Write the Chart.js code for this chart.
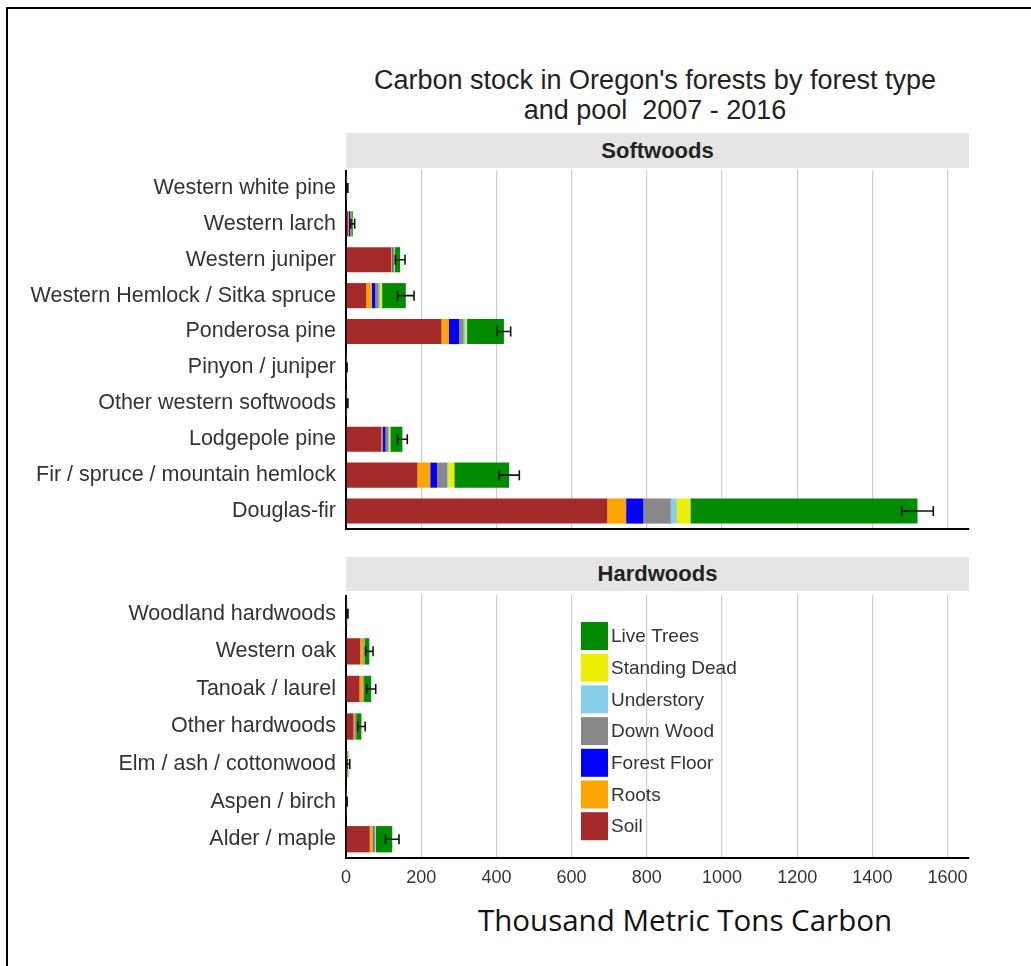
<!DOCTYPE html>
<html>
<head>
<meta charset="utf-8">
<script src="https://cdn.jsdelivr.net/npm/chart.js@4.4.1/dist/chart.umd.min.js"></script>
<style>
  html, body { margin: 0; padding: 0; background: #fff; overflow: hidden; }
  body { width: 1031px; height: 966px; position: relative; font-family: "Liberation Sans", Arial, sans-serif; color: #222; }
  #frame { position: absolute; left: 6px; top: 7px; width: 1100px; height: 1000px; border-left: 2px solid #000; border-top: 2px solid #000; }
  #title { position: absolute; left: 300px; width: 710px; top: 65px; text-align: center; font-size: 27px; line-height: 30px; color: #222; }
  .strip { position: absolute; left: 346px; width: 623px; background: #e5e5e5; text-align: center; font-weight: bold; font-size: 22px; color: #222; }
  #softStrip { top: 133px; height: 35px; line-height: 35px; }
  #hardStrip { top: 557px; height: 34px; line-height: 34px; }
  .box { position: absolute; left: 0; width: 1031px; }
  #softBox { top: 170px; height: 361px; }
  #hardBox { top: 595px; height: 303px; }
  #xTitle { position: absolute; left: 400px; width: 570px; top: 899px; text-align: center; font-family: "Open Sans", sans-serif; font-size: 29.5px; color: #111; }
</style>
</head>
<body>
<div id="frame"></div>
<div id="title">Carbon stock in Oregon's forests by forest type<br>and pool&nbsp; 2007 - 2016</div>
<div class="strip" id="softStrip">Softwoods</div>
<div class="strip" id="hardStrip">Hardwoods</div>
<div class="box" id="softBox"><canvas id="softChart"></canvas></div>
<div class="box" id="hardBox"><canvas id="hardChart"></canvas></div>
<div id="xTitle">Thousand Metric Tons Carbon</div>

<script>
// carbon pools, stacked left to right
const pools = ['Soil', 'Roots', 'Forest Floor', 'Down Wood', 'Understory', 'Standing Dead', 'Live Trees'];
const poolColors = ['#a52a2a', '#ffa500', '#0000ff', '#888888', '#87ceeb', '#eeee00', '#008b00'];

// softwoods (top to bottom)
const softLabels = ['Western white pine', 'Western larch', 'Western juniper', 'Western Hemlock / Sitka spruce',
  'Ponderosa pine', 'Pinyon / juniper', 'Other western softwoods', 'Lodgepole pine',
  'Fir / spruce / mountain hemlock', 'Douglas-fir'];
const softSoil     = [1, 6, 120, 54, 254, 1, 1, 94, 190, 695];
const softRoots    = [0.3, 2, 3, 15, 20, 0.2, 0.3, 3, 34, 50];
const softFloor    = [0.2, 3, 2, 9, 27, 0.1, 0.3, 8, 18, 46];
const softDown     = [0.2, 2, 3, 9, 12, 0.1, 0.3, 8, 27, 73];
const softUnder    = [0.1, 0.5, 1, 4, 5, 0.1, 0.2, 2, 3, 16];
const softStanding = [0.1, 0.5, 1, 5, 4, 0.1, 0.2, 3, 16, 36];
const softLive     = [1, 4, 14, 63, 98, 0.4, 0.7, 32, 146, 604];
const softErr      = [2, 5, 13, 22, 18, 1, 2, 13, 27, 42];

// hardwoods (top to bottom)
const hardLabels = ['Woodland hardwoods', 'Western oak', 'Tanoak / laurel', 'Other hardwoods',
  'Elm / ash / cottonwood', 'Aspen / birch', 'Alder / maple'];
const hardSoil     = [2, 38, 36, 20, 3, 1, 63];
const hardRoots    = [0.4, 8, 9, 4, 0.5, 0.2, 8];
const hardFloor    = [0.1, 1, 1, 1, 0.2, 0.1, 2];
const hardDown     = [0.1, 1, 1, 1, 0.2, 0.1, 4];
const hardUnder    = [0.1, 0.5, 0.5, 0.5, 0.1, 0.1, 1];
const hardStanding = [0.1, 0.5, 0.5, 0.5, 0.1, 0.1, 1];
const hardLive     = [0.5, 13, 19, 14, 2, 0.4, 44];
const hardErr      = [2, 10, 12, 10, 4, 1, 18];

const xMax = 1657;
const xStep = 200;

Chart.defaults.font.family = '"Liberation Sans", Arial, sans-serif';
Chart.defaults.color = '#333';

function makeDatasets(series) {
  return series.map((vals, i) => ({
    label: pools[i],
    data: vals,
    backgroundColor: poolColors[i],
    borderWidth: 0,
    barPercentage: 0.7,
    categoryPercentage: 1.0,
  }));
}

// error bars centred on each stacked total
const errorBars = {
  id: 'errorBars',
  afterDatasetsDraw(chart, args, opts) {
    const { ctx } = chart;
    const xs = chart.scales.x;
    const ys = chart.scales.y;
    ctx.save();
    ctx.strokeStyle = '#111';
    ctx.lineWidth = 1.6;
    opts.err.forEach((e, i) => {
      let total = 0;
      chart.data.datasets.forEach((ds) => { total += ds.data[i]; });
      const x1 = xs.getPixelForValue(Math.max(0, total - e));
      const x2 = xs.getPixelForValue(total + e);
      const y = ys.getPixelForValue(i);
      ctx.beginPath();
      ctx.moveTo(x1, y); ctx.lineTo(x2, y);
      ctx.moveTo(x1, y - 5); ctx.lineTo(x1, y + 5);
      ctx.moveTo(x2, y - 5); ctx.lineTo(x2, y + 5);
      ctx.stroke();
    });
    ctx.restore();
  },
};

// legend drawn inside the hardwoods panel, Live Trees on top
const innerLegend = {
  id: 'innerLegend',
  afterDraw(chart, args, opts) {
    if (!opts.show) return;
    const { ctx, chartArea } = chart;
    const left = chartArea.left + 235;
    let top = chartArea.top + 27;
    ctx.save();
    ctx.font = '19px "Liberation Sans", Arial, sans-serif';
    ctx.textBaseline = 'middle';
    for (let i = pools.length - 1; i >= 0; i--) {
      ctx.fillStyle = poolColors[i];
      ctx.fillRect(left, top, 27, 28);
      ctx.fillStyle = '#333';
      ctx.fillText(pools[i], left + 30, top + 15);
      top += 31.7;
    }
    ctx.restore();
  },
};

function makeChart(id, labels, series, err, showTicks, showLegend) {
  return new Chart(document.getElementById(id), {
    type: 'bar',
    data: { labels: labels, datasets: makeDatasets(series) },
    plugins: [errorBars, innerLegend],
    options: {
      indexAxis: 'y',
      responsive: true,
      maintainAspectRatio: false,
      animation: false,
      layout: { padding: { top: 0, right: 62, bottom: showTicks ? 0 : 2, left: 0 } },
      scales: {
        x: {
          stacked: true,
          min: 0,
          max: xMax,
          grid: { color: '#cccccc', lineWidth: 1.2, drawTicks: false },
          border: { display: true, color: '#000', width: 2 },
          ticks: {
            display: showTicks,
            stepSize: xStep,
            includeBounds: false,
            padding: 9,
            font: { size: 18 },
            color: '#333',
            callback: (v) => String(v),
          },
          afterFit: (scale) => {
            scale.height = showTicks ? 40 : 0;
            scale.paddingLeft = 0;
            scale.paddingRight = 0;
          },
        },
        y: {
          stacked: true,
          grid: { display: false, drawTicks: false },
          border: { display: true, color: '#000', width: 2 },
          ticks: { padding: 10, font: { size: 21.5 }, color: '#333' },
          afterFit: (scale) => {
            scale.width = 346;
            scale.paddingTop = 0;
            scale.paddingBottom = 0;
          },
        },
      },
      plugins: {
        legend: { display: false },
        tooltip: { enabled: false },
        errorBars: { err: err },
        innerLegend: { show: showLegend },
      },
    },
  });
}

makeChart('softChart', softLabels,
  [softSoil, softRoots, softFloor, softDown, softUnder, softStanding, softLive], softErr, false, false);
makeChart('hardChart', hardLabels,
  [hardSoil, hardRoots, hardFloor, hardDown, hardUnder, hardStanding, hardLive], hardErr, true, true);
</script>
</body>
</html>
